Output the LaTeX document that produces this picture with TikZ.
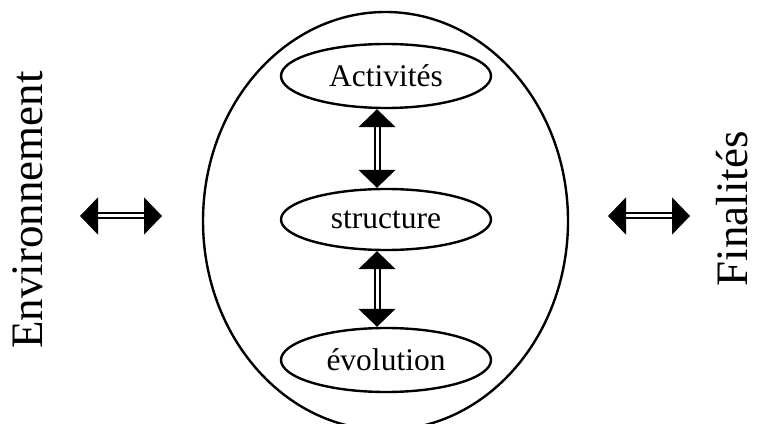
\documentclass[tikz,border=0pt]{standalone}
\usepackage{fontspec}
\setmainfont{Liberation Serif}
\usetikzlibrary{arrows.meta,shapes.geometric,calc}

\tikzset{
  oval/.style={ellipse, draw, line width=2.4pt, inner sep=0pt},
  inner oval/.style={oval, minimum width=210pt, minimum height=64pt,
    font=\fontsize{31.5}{36}\selectfont},
  side label/.style={rotate=90, anchor=base, inner sep=0pt,
    font=\fontsize{45}{50}\selectfont},
  link/.style={double, line width=2pt, double distance=3pt,
    {Triangle[width=37pt,length=18pt]}-{Triangle[width=37pt,length=18pt]}}
}

\begin{document}
\begin{tikzpicture}[x=1pt,y=1pt]
  \useasboundingbox (0,0) rectangle (757,423);
  \clip (0,0) rectangle (757,423);

  % enclosing system
  \node[oval, minimum width=365pt, minimum height=418pt] (sys) at (385.5,202) {};

  % inner components
  \node[inner oval] (act) at (386,347) {Activités};
  \node[inner oval, minimum height=61pt] (str) at (386,203.5) {structure};
  \node[inner oval] (evo) at (386,63) {évolution};

  % vertical exchanges
  \draw[link] ($(act.south)+(-9,0)$) -- ($(str.north)+(-9,0)$);
  \draw[link] ($(str.south)+(-9,0)$) -- ($(evo.north)+(-9,0)$);

  % outside context
  \node[side label] (env) at (42,213) {Environnement};
  \node[side label] (fin) at (747,214) {Finalités};

  \coordinate (envL) at (80,207);
  \coordinate (envR) at (162,207);
  \coordinate (finL) at (608,207);
  \coordinate (finR) at (690,207);
  \draw[link] (envL) -- (envR);
  \draw[link] (finL) -- (finR);
\end{tikzpicture}
\end{document}
